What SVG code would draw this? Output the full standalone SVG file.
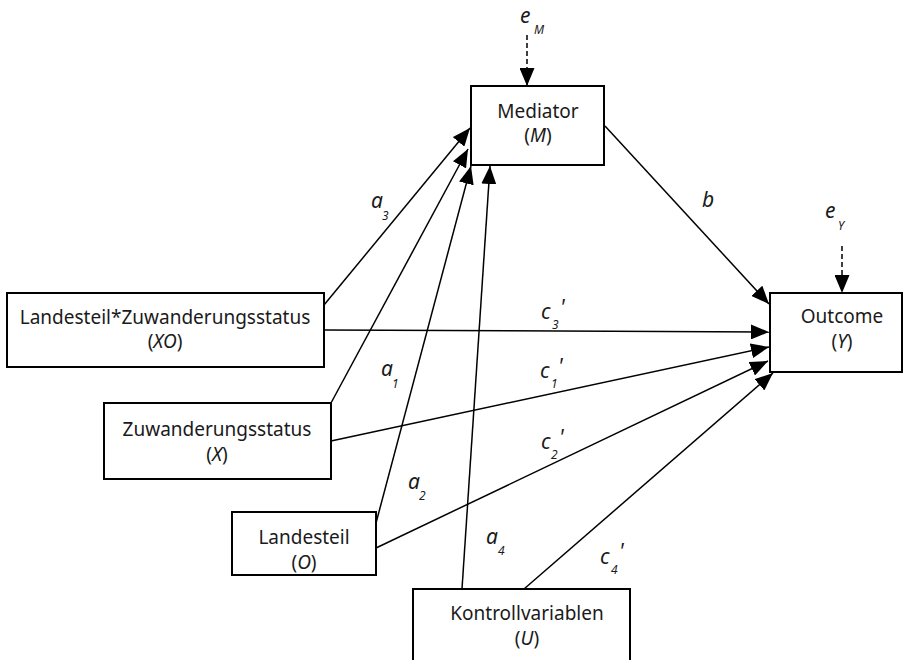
<svg xmlns="http://www.w3.org/2000/svg" width="904" height="660" viewBox="0 0 904 660">
<style>
.box{fill:#fff;stroke:#000;stroke-width:2}
.t{font-family:"Noto Sans","Open Sans",sans-serif;font-size:19px;fill:#1a1a1a;text-anchor:middle}
.i{font-style:italic}
.lbl{font-family:"Noto Sans","Open Sans",sans-serif;font-style:italic;font-size:21px;fill:#1a1a1a}
.sub{font-family:"Noto Sans","Open Sans",sans-serif;font-style:italic;font-size:12px;fill:#1a1a1a}
.ln{stroke:#000;stroke-width:1.5;fill:none;marker-end:url(#ah)}
.dash{stroke:#000;stroke-width:1.5;fill:none;stroke-dasharray:5,3;marker-end:url(#ah)}
</style>
<defs>
<marker id="ah" markerUnits="userSpaceOnUse" markerWidth="18" markerHeight="15" refX="18" refY="7.5" orient="auto">
<path d="M0,0 L18,7.5 L0,15 z" fill="#000"/>
</marker>
</defs>
<g id="connectors">
<line class="dash" x1="527" y1="35" x2="527" y2="86"/>
<line class="dash" x1="842" y1="246" x2="842" y2="293"/>
<line class="ln" x1="324" y1="305" x2="470" y2="128"/>
<line class="ln" x1="331" y1="403" x2="468" y2="149"/>
<line class="ln" x1="376" y1="523" x2="471" y2="166"/>
<line class="ln" x1="462" y1="589" x2="490" y2="166"/>
<line class="ln" x1="605" y1="126" x2="769" y2="304"/>
<line class="ln" x1="324" y1="330" x2="769" y2="332"/>
<line class="ln" x1="331" y1="441" x2="769" y2="347"/>
<line class="ln" x1="376" y1="548" x2="768" y2="361"/>
<line class="ln" x1="524" y1="589" x2="773" y2="373"/>
</g>
<g id="mediator">
<rect class="box" x="471" y="86" width="133" height="79"/>
<text class="t" x="538" y="118">Mediator</text>
<text class="t" x="538" y="142">(<tspan class="i">M</tspan>)</text>
</g>
<g id="outcome">
<rect class="box" x="770" y="293" width="132" height="79"/>
<text class="t" x="842" y="323">Outcome</text>
<text class="t" x="842" y="348">(<tspan class="i">Y</tspan>)</text>
</g>
<g id="xo">
<rect class="box" x="7" y="293" width="317" height="74"/>
<text class="t" x="165" y="324">Landesteil*Zuwanderungsstatus</text>
<text class="t" x="165" y="348">(<tspan class="i">XO</tspan>)</text>
</g>
<g id="x">
<rect class="box" x="104" y="403" width="227" height="76"/>
<text class="t" x="217" y="436">Zuwanderungsstatus</text>
<text class="t" x="217" y="461">(<tspan class="i">X</tspan>)</text>
</g>
<g id="o">
<rect class="box" x="232" y="512" width="144" height="63"/>
<text class="t" x="304" y="544">Landesteil</text>
<text class="t" x="304" y="569">(<tspan class="i">O</tspan>)</text>
</g>
<g id="u">
<rect class="box" x="413" y="589" width="217" height="80"/>
<text class="t" x="527" y="620">Kontrollvariablen</text>
<text class="t" x="527" y="645">(<tspan class="i">U</tspan>)</text>
</g>
<g id="labels">
<text class="lbl" x="520" y="23">e</text><text class="sub" x="534" y="34">M</text>
<text class="lbl" x="825" y="218">e</text><text class="sub" x="838" y="230">Y</text>
<text class="lbl" x="371" y="208">a</text><text class="sub" x="382" y="220">3</text>
<text class="lbl" x="702" y="207">b</text>
<text class="lbl" x="541" y="319">c</text><text class="sub" x="552" y="329">3</text><text class="lbl" x="560" y="315">'</text>
<text class="lbl" x="381" y="376">a</text><text class="sub" x="392" y="388">1</text>
<text class="lbl" x="540" y="378">c</text><text class="sub" x="551" y="388">1</text><text class="lbl" x="558" y="374">'</text>
<text class="lbl" x="541" y="449">c</text><text class="sub" x="551" y="459">2</text><text class="lbl" x="559" y="445">'</text>
<text class="lbl" x="408" y="489">a</text><text class="sub" x="419" y="500">2</text>
<text class="lbl" x="486" y="544">a</text><text class="sub" x="498" y="555">4</text>
<text class="lbl" x="600" y="564">c</text><text class="sub" x="611" y="574">4</text><text class="lbl" x="619" y="559">'</text>
</g>
</svg>
